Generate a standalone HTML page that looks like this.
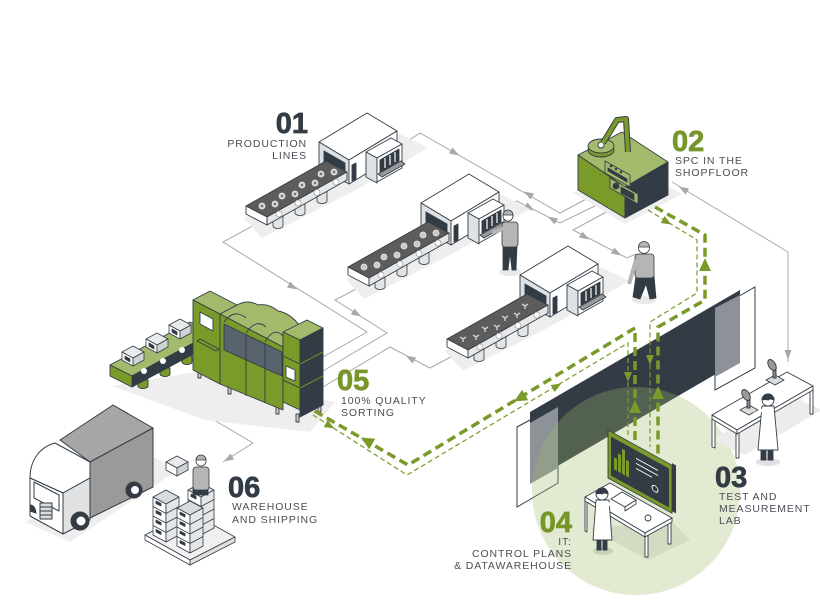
<!DOCTYPE html>
<html><head><meta charset="utf-8">
<style>
html,body{margin:0;padding:0;background:#fff;}
svg{display:block;}
text{font-family:"Liberation Sans",sans-serif;}
.num{font-weight:bold;font-size:29px;stroke-width:0.7px;}
.lbl{font-size:10.5px;letter-spacing:0.9px;fill:#4a4e54;}
</style></head><body>
<svg width="820" height="600" viewBox="0 0 820 600" xmlns="http://www.w3.org/2000/svg">
<rect width="820" height="600" fill="#fff"/>

<!-- gray flow lines -->
<g fill="none" stroke="#a8a8a8" stroke-width="1">
<polyline points="400,146 420,133 560,213 590,197"/>
<polyline points="503,208 517,201 560,223 603,202"/>
<polyline points="610,210 573,230 627,258 636,254"/>
<polyline points="260,222 223,242 367,332 323,357"/>
<polyline points="360,287 335,300 387,333 323,371"/>
<polyline points="460,352 430,368 390,347 323,387"/>
<polyline points="163,390 253,443 223,462"/>
<polyline points="672,182 788,252 788,362"/>
</g>
<g fill="#a8a8a8">
<polygon points="5,0 -5,-3.5 -5,3.5" transform="translate(455,153) rotate(30)"/>
<polygon points="5,0 -5,-3.5 -5,3.5" transform="translate(528,194) rotate(210)"/>
<polygon points="5,0 -5,-3.5 -5,3.5" transform="translate(530,208) rotate(30)"/>
<polygon points="5,0 -5,-3.5 -5,3.5" transform="translate(552,219) rotate(210)"/>
<polygon points="5,0 -5,-3.5 -5,3.5" transform="translate(585,237) rotate(30)"/>
<polygon points="5,0 -5,-3.5 -5,3.5" transform="translate(617,253) rotate(30)"/>
<polygon points="5,0 -5,-3.5 -5,3.5" transform="translate(293,287) rotate(30)"/>
<polygon points="5,0 -5,-3.5 -5,3.5" transform="translate(357,314) rotate(30)"/>
<polygon points="5,0 -5,-3.5 -5,3.5" transform="translate(410,358) rotate(210)"/>
<polygon points="5,0 -5,-3.5 -5,3.5" transform="translate(208,416) rotate(30)"/>
<polygon points="5,0 -5,-3.5 -5,3.5" transform="translate(228,459) rotate(150)"/>
<polygon points="5,0 -5,-3.5 -5,3.5" transform="translate(683,189) rotate(210)"/>
<polygon points="5,0 -5,-3.5 -5,3.5" transform="translate(788,355) rotate(90)"/>
</g>

<!-- production line template -->
<g id="pl">
<polygon fill="#eeeeee" points="244,218 330,170 400,134 428,148 352,192 262,238"/>
<g fill="#e2e4e6" stroke="#333c45" stroke-width="0.8">
<path d="M273,216 v10 a5,2.5 0 0 0 10,0 v-10 z"/>
<path d="M295,203 v10 a5,2.5 0 0 0 10,0 v-10 z"/>
<path d="M317,191 v10 a5,2.5 0 0 0 10,0 v-10 z"/>
</g>
<g stroke="#333c45" stroke-width="0.9" stroke-linejoin="round">
<polygon fill="#fff" points="319,142 367,113 397,131 349,160"/>
<polygon fill="#dfe2e5" points="319,142 349,160 349,184 319,166"/>
<polygon fill="#333c45" points="324,151 345,163 345,182 324,170"/>
<polygon fill="#fff" points="349,160 397,131 397,155 349,184"/>
<polygon fill="#333c45" points="352,165 356,163 356,179 352,181"/>
<polygon fill="#fff" points="366,152 391,138 402,144 377,158"/>
<polygon fill="#dfe2e5" points="366,152 377,158 377,183 366,177"/>
<polygon fill="#fff" points="377,158 402,144 402,168 377,182"/>
<polygon fill="#333c45" points="380,160 399,149 399,161 380,172"/>
<polygon fill="#9a9a9a" points="378,174 401,161 405,164 382,177"/>
</g>
<g stroke="#fff" stroke-width="1.2">
<line x1="385" y1="158" x2="385" y2="168"/><line x1="390" y1="155" x2="390" y2="165"/><line x1="395" y1="152" x2="395" y2="162"/>
</g>
<g stroke="#333c45" stroke-width="0.9" stroke-linejoin="round">
<polygon fill="#5c5c5c" points="246,206 267,217 347,172 326,161"/>
<polygon fill="#e6e7e8" points="267,217 347,172 347,180 267,225"/>
<polygon fill="#fff" points="246,206 267,217 267,225 246,214"/>
</g>
<g fill="#fff" stroke="#999" stroke-width="0.7">
<circle cx="279" cy="214" r="3"/><circle cx="298" cy="203" r="3"/><circle cx="317" cy="192.5" r="3"/><circle cx="336" cy="182" r="3"/>
</g>
</g>
<use href="#pl" transform="translate(102,61)"/>
<use href="#pl" transform="translate(201,133)"/>

<!-- nuts on lines 1,2 -->
<g id="nuts" fill="#c8c8c8" stroke="#eee" stroke-width="0.8">
<circle cx="262" cy="206" r="3"/><circle cx="275" cy="204" r="3"/><circle cx="282" cy="196" r="3"/><circle cx="295" cy="194" r="3"/>
<circle cx="302" cy="185" r="3"/><circle cx="315" cy="183" r="3"/><circle cx="321" cy="174" r="3"/><circle cx="334" cy="172" r="3"/>
</g>
<use href="#nuts" transform="translate(102,61)"/>
<g fill="#555">
<circle cx="262" cy="206" r="1"/><circle cx="275" cy="204" r="1"/><circle cx="282" cy="196" r="1"/><circle cx="295" cy="194" r="1"/>
<circle cx="302" cy="185" r="1"/><circle cx="315" cy="183" r="1"/><circle cx="321" cy="174" r="1"/><circle cx="334" cy="172" r="1"/>
</g>
<!-- Y items on line 3 -->
<g stroke="#d0d0d0" stroke-width="1.4" fill="none" transform="translate(201,133)">
<path d="M262,206 l-3,-2 M262,206 l3,-2 M262,206 v3"/><path d="M275,204 l-3,-2 M275,204 l3,-2 M275,204 v3"/>
<path d="M284,196 l-3,-2 M284,196 l3,-2 M284,196 v3"/><path d="M296,194 l-3,-2 M296,194 l3,-2 M296,194 v3"/>
<path d="M304,185 l-3,-2 M304,185 l3,-2 M304,185 v3"/><path d="M316,182 l-3,-2 M316,182 l3,-2 M316,182 v3"/>
<path d="M324,173 l-3,-2 M324,173 l3,-2 M324,173 v3"/>
</g>

<!-- worker 1 -->
<g stroke="#333c45" stroke-width="0.8">
<ellipse cx="510" cy="272" rx="11" ry="4" fill="#e8e8e8" stroke="none"/>
<polygon fill="#333c45" points="503,245 517,245 516,270 512,270 510,253 508,270 503,270"/>
<rect x="502" y="222" width="16" height="25" rx="3" fill="#b5b5b5"/>
<path d="M504,228 L492,233" stroke="#b5b5b5" stroke-width="4"/>
<circle cx="508" cy="216" r="5" fill="#fff"/>
<path d="M503,215 a5,5 0 0 1 10,0 z" fill="#b5b5b5"/>
</g>
<!-- worker 2 -->
<g stroke="#333c45" stroke-width="0.8">
<ellipse cx="644" cy="300" rx="12" ry="4" fill="#e8e8e8" stroke="none"/>
<polygon fill="#333c45" points="636,276 654,276 656,298 650,299 646,284 640,299 633,297"/>
<rect x="635" y="254" width="19" height="24" rx="3" fill="#b5b5b5"/>
<path d="M636,260 L629,284" stroke="#b5b5b5" stroke-width="4"/>
<circle cx="644" cy="248" r="5.5" fill="#fff"/>
<path d="M638.5,247 a5.5,5.5 0 0 1 11,0 z" fill="#b5b5b5"/>
</g>

<!-- SPC box -->
<polygon fill="#eeeeee" points="572,192 625,224 682,194 668,186"/>
<g stroke="#333c45" stroke-width="0.9" stroke-linejoin="round">
<polygon fill="#a3b96b" points="578,155 622,132 668,162 625,187"/>
<polygon fill="#7a9a2a" points="578,155 625,187 625,218 578,190"/>
<polygon fill="#333c45" points="625,187 668,162 668,195 625,218"/>
<ellipse cx="601" cy="150" rx="13" ry="7" fill="#7a9a2a"/>
<ellipse cx="601" cy="146" rx="13" ry="7" fill="#a3b96b"/>
<circle cx="601" cy="145" r="3" fill="#fff"/>
</g>
<path d="M603,143 L617,120 L626,119 L628,152" fill="none" stroke="#333c45" stroke-width="6" stroke-linejoin="round"/>
<path d="M603,143 L617,120 L626,119 L628,152" fill="none" stroke="#7a9a2a" stroke-width="4" stroke-linejoin="round"/>
<g stroke="#333c45" stroke-width="0.8">
<polygon fill="#a3b96b" points="605,161 630,175 630,187 605,173"/>
<polygon fill="#333c45" points="608,168 627,179 627,182 608,171"/>
<polygon fill="#a3b96b" points="610,178 638,194 638,204 610,188"/>
<circle cx="616" cy="186" r="3" fill="#333c45"/>
<polygon fill="#333c45" points="621,187 634,194 634,200 621,193"/>
</g>
<g fill="#333c45"><circle cx="611" cy="166" r="1.3"/><circle cx="616" cy="169" r="1.3"/><circle cx="621" cy="172" r="1.3"/></g>

<!-- green sorting machine -->
<polygon fill="#eeeeee" points="112,386 195,372 335,402 310,432 205,420"/>
<g stroke="#333c45" stroke-width="0.9" stroke-linejoin="round">
<path d="M138,380 v6 a5,2.5 0 0 0 10,0 v-6 z" fill="#7a9a2a"/>
<path d="M160,368 v6 a5,2.5 0 0 0 10,0 v-6 z" fill="#7a9a2a"/>
<path d="M182,356 v6 a5,2.5 0 0 0 10,0 v-6 z" fill="#7a9a2a"/>
<polygon fill="#a3b96b" points="110,365 190,322 212,333 132,376"/>
<polygon fill="#333c45" points="132,376 212,333 212,344 132,387"/>
<polygon fill="#7a9a2a" points="110,365 132,376 132,387 110,376"/>
</g>
<g fill="#fff"><circle cx="144" cy="371" r="3"/><circle cx="163" cy="361" r="3"/><circle cx="182" cy="350" r="3"/><circle cx="200" cy="340" r="3"/></g>
<g id="bx" stroke="#333c45" stroke-width="0.8" stroke-linejoin="round">
<polygon fill="#e8eaec" points="122,352 133,346 144,352 133,358"/>
<polygon fill="#fff" points="122,352 133,358 133,366 122,360"/>
<polygon fill="#d0d3d6" points="133,358 144,352 144,360 133,366"/>
<polygon fill="#333c45" points="125,356 130,359 130,362 125,359"/>
</g>
<use href="#bx" transform="translate(24,-13)"/>
<use href="#bx" transform="translate(47,-27)"/>
<g stroke="#333c45" stroke-width="0.9" stroke-linejoin="round">
<rect x="198" y="370" width="3" height="8" fill="#ccc"/><rect x="228" y="386" width="3" height="8" fill="#ccc"/>
<rect x="276" y="406" width="3" height="8" fill="#ccc"/><rect x="296" y="414" width="3" height="8" fill="#ccc"/><rect x="318" y="404" width="3" height="8" fill="#ccc"/>
<polygon fill="#a3b96b" points="193,300 210,291 237,305 220,314"/>
<polygon fill="#7a9a2a" points="193,300 220,314 220,384 193,370"/>
<polygon fill="#fff" points="200,312 213,319 213,331 200,324"/>
<polygon fill="#7a9a2a" points="197,341 216,351 219,349 200,339"/>
<path fill="#a3b96b" d="M220,314 L237,305 Q248,299 258,305 Q268,303 278,311 Q290,313 300,326 L283,335 L283,347 Z"/>
<polygon fill="#7a9a2a" points="220,314 283,347 283,410 220,384"/>
<polygon fill="#59636d" points="224,324 282,352 282,376 224,350"/>
<path d="M224,322 Q234,308 246,318 M246,333 Q256,318 266,327 M265,342 Q274,326 283,336" fill="none"/>
<line x1="246" y1="334" x2="246" y2="396"/><line x1="265" y1="343" x2="265" y2="403"/>
<polygon fill="#a3b96b" points="283,332 307,320 323,328 300,340"/>
<polygon fill="#7a9a2a" points="283,332 300,340 300,410 283,402"/>
<polygon fill="#333c45" points="300,340 323,328 323,405 300,417"/>
<line x1="283" y1="356" x2="300" y2="364"/><line x1="283" y1="380" x2="300" y2="388"/>
<line x1="300" y1="364" x2="323" y2="352" stroke="#7a9a2a"/><line x1="300" y1="388" x2="323" y2="376" stroke="#7a9a2a"/>
<polygon fill="#fff" points="286,366 295,370 295,381 286,377"/>
</g>

<!-- truck -->
<polygon fill="#eeeeee" points="25,522 150,455 178,470 70,542"/>
<g stroke="#333c45" stroke-width="1" stroke-linejoin="round">
<polygon fill="#a6a6a6" points="60,440 113,405 153,428 90,462"/>
<polygon fill="#9a9a9a" points="90,462 153,428 153,487 90,518"/>
<path fill="#fff" d="M30,478 C30,460 40,447 55,443 L90,462 L90,478 L63,493 Z"/>
<polygon fill="#dfe1e3" points="63,493 90,478 90,520 63,534"/>
<polygon fill="#fff" points="30,478 63,493 63,534 30,516"/>
<polygon fill="#fff" points="34,482 59,495 59,511 34,498"/>
<rect x="40" y="503" width="12" height="16" fill="#ddd"/>
<line x1="40" y1="507" x2="52" y2="507"/><line x1="40" y1="511" x2="52" y2="511"/><line x1="40" y1="515" x2="52" y2="515"/>
<path d="M30,505 q5,0 6,8 l-6,-2 z" fill="#333c45"/>
<circle cx="80" cy="521" r="9" fill="#333c45"/><circle cx="81" cy="521" r="5" fill="#fff"/>
<circle cx="134" cy="490" r="8" fill="#333c45"/><circle cx="135" cy="490" r="4.5" fill="#fff"/>
</g>

<!-- warehouse -->
<g stroke="#333c45" stroke-width="0.8" stroke-linejoin="round">
<polygon fill="#f0f0f0" points="145,535 190,512 235,537 190,560"/>
<polygon fill="#fff" points="145,535 190,560 190,565 145,540"/>
<polygon fill="#e0e0e0" points="190,560 235,537 235,542 190,565"/>
</g>
<g id="col" stroke="#333c45" stroke-width="0.8" stroke-linejoin="round">
<polygon fill="#d8dbde" points="188,490 201,483 214,490 201,497"/>
<polygon fill="#fff" points="188,490 201,497 201,535 188,528"/>
<polygon fill="#e4e6e8" points="201,497 214,490 214,528 201,535"/>
<path d="M188,499.5 l13,7 l13,-7 M188,509 l13,7 l13,-7 M188,518.5 l13,7 l13,-7" fill="none"/>
<g fill="#333c45"><polygon points="191,494 196,496.5 196,499 191,496.5"/><polygon points="191,503.5 196,506 196,508.5 191,506"/><polygon points="191,513 196,515.5 196,518 191,515.5"/><polygon points="191,522.5 196,525 196,527.5 191,525"/></g>
</g>
<use href="#col" transform="translate(-35,7)"/>
<use href="#col" transform="translate(-11,18)"/>
<g stroke="#333c45" stroke-width="0.8">
<polygon fill="#333c45" points="193,488 208,488 208,495 193,495"/>
<rect x="193" y="467" width="16" height="23" rx="3" fill="#b5b5b5"/>
<circle cx="201" cy="461" r="5" fill="#fff"/>
<path d="M196,460 a5,5 0 0 1 10,0 z" fill="#b5b5b5"/>
<polygon fill="#e8eaec" points="166,462 177,456 188,462 177,468"/>
<polygon fill="#fff" points="166,462 177,468 177,476 166,470"/>
<polygon fill="#d0d3d6" points="177,468 188,462 188,470 177,476"/>
</g>

<!-- dark panel -->
<g stroke="#333c45" stroke-width="1">
<polygon fill="#fff" points="517,427 558,405 558,483 517,507"/>
<polygon fill="#fff" points="715,310 755,287 755,368 715,390"/>
</g>
<polygon fill="#333c45" points="530,412 740,290 740,360 530,482"/>
<polygon fill="#8d9299" points="530,423 558,407 558,468 530,484"/>
<polygon fill="#8d9299" points="715,308 740,295 740,363 715,377"/>
<!-- green circle -->
<circle cx="636" cy="491" r="104" fill="#9fb86a" fill-opacity="0.3"/>

<!-- green dashed flows -->
<g fill="none" stroke="#7a9a2a">
<polyline stroke-width="3.5" stroke-dasharray="9 5" points="655,207 705,235 705,300 658,327 658,457"/>
<polyline stroke-width="3.5" stroke-dasharray="9 5" points="635,440 635,328 408,465 313,410"/>
<polyline stroke-width="1.2" stroke-dasharray="5 3" points="648,210 697,240 697,293 650,322 650,447"/>
<polyline stroke-width="1.2" stroke-dasharray="5 3" points="628,435 628,343 407,475 313,415"/>
</g>
<g fill="#7a9a2a">
<polygon points="7,0 -6,-6 -6,6" transform="translate(705,265) rotate(-90)"/>
<polygon points="7,0 -6,-6 -6,6" transform="translate(658,393) rotate(-90)"/>
<polygon points="7,0 -6,-6 -6,6" transform="translate(635,407) rotate(-90)"/>
<polygon points="7,0 -6,-6 -6,6" transform="translate(520,398) rotate(150)"/>
<polygon points="7,0 -6,-6 -6,6" transform="translate(367,441) rotate(210)"/>
<polygon points="5,0 -5,-4 -5,4" transform="translate(667,222) rotate(30)"/>
<polygon points="5,0 -5,-4 -5,4" transform="translate(650,360) rotate(90)"/>
<polygon points="5,0 -5,-4 -5,4" transform="translate(628,377) rotate(90)"/>
<polygon points="5,0 -5,-4 -5,4" transform="translate(557,386) rotate(-30)"/>
<polygon points="5,0 -5,-4 -5,4" transform="translate(330,426) rotate(30)"/>
</g>

<!-- IT desk -->
<polygon fill="#d3dbc3" points="590,528 648,560 690,540 672,522"/>
<g stroke="#333c45" stroke-width="0.9" stroke-linejoin="round">
<polygon fill="#fff" points="585,497 587,498 587,532 585,531"/>
<polygon fill="#fff" points="645,533 648,533 648,557 645,557"/>
<polygon fill="#fff" points="668,520 671,520 671,544 668,544"/>
<polygon fill="#fff" points="585,497 610,483 672,518 645,533"/>
<polygon fill="#fff" points="585,497 645,533 645,537 585,501"/>
<polygon fill="#fff" points="645,533 672,518 672,522 645,537"/>
<polygon fill="#fff" points="611,499 622,492 636,500 625,507"/>
<polygon fill="#fff" points="625,507 636,500 636,504 625,511"/>
<circle cx="648" cy="518" r="3" fill="#fff"/>
</g>
<g transform="translate(608,430) skewY(28.8)">
<rect x="64" y="-2" width="4" height="48" fill="#333c45"/>
<rect x="0" y="0" width="64" height="48" fill="#7a9a2a" stroke="#333c45" stroke-width="0.9"/>
<rect x="3" y="5" width="58" height="39" fill="#333c45"/>
<g fill="#7a9a2a"><rect x="6" y="24" width="3" height="12"/><rect x="10" y="18" width="3" height="18"/><rect x="14" y="11" width="3" height="25"/><rect x="18" y="20" width="3" height="16"/></g>
<g stroke="#fff" stroke-width="1"><line x1="28" y1="13" x2="50" y2="13"/><line x1="28" y1="18" x2="50" y2="18"/><line x1="28" y1="23" x2="44" y2="23"/></g>
<circle cx="47" cy="33" r="3" fill="none" stroke="#fff" stroke-width="0.9"/>
</g>
<!-- IT scientist -->
<g stroke="#333c45" stroke-width="0.9" stroke-linejoin="round">
<ellipse cx="603" cy="551" rx="10" ry="4" fill="#c9d2b7" stroke="none"/>
<rect x="597" y="538" width="4" height="12" fill="#333c45"/><rect x="603" y="538" width="4" height="12" fill="#333c45"/>
<polygon fill="#fff" points="596,500 609,500 612,540 593,540"/>
<path d="M607,503 L616,508" stroke="#fff" stroke-width="3"/>
<circle cx="602" cy="494" r="6" fill="#fff"/>
<path d="M596,494 a6,6 0 0 1 12,0 q-4,-2 -6,0 q-3,-1 -6,0 z" fill="#333c45"/>
</g>

<!-- test lab -->
<polygon fill="#ececec" points="712,440 790,395 822,410 745,455"/>
<g stroke="#333c45" stroke-width="0.9" stroke-linejoin="round">
<polygon fill="#fff" points="712,417 715,418 715,448 712,447"/>
<polygon fill="#fff" points="736,432 739,432 739,458 736,458"/>
<polygon fill="#fff" points="810,389 813,389 813,414 810,414"/>
<polygon fill="#fff" points="712,415 787,372 813,386 737,430"/>
<polygon fill="#fff" points="712,415 737,430 737,434 712,419"/>
<polygon fill="#fff" points="737,430 813,386 813,390 737,434"/>
<polygon fill="#ddd" points="740,410 749,405 758,410 749,415"/>
<rect x="747" y="396" width="3" height="12" fill="#888"/>
<ellipse cx="746" cy="395" rx="3.5" ry="6" fill="#999" transform="rotate(-30 746 395)"/>
<polygon fill="#ddd" points="766,380 775,375 784,380 775,385"/>
<rect x="773" y="366" width="3" height="12" fill="#888"/>
<ellipse cx="772" cy="365" rx="3.5" ry="6" fill="#999" transform="rotate(-30 772 365)"/>
<ellipse cx="768" cy="462" rx="12" ry="4" fill="#e0e0e0" stroke="none"/>
<rect x="761" y="448" width="5" height="12" fill="#333c45"/><rect x="768" y="448" width="5" height="12" fill="#333c45"/>
<polygon fill="#fff" points="762,406 774,406 778,450 758,450"/>
<path d="M763,410 L754,414" stroke="#fff" stroke-width="3"/>
<circle cx="768" cy="400" r="6" fill="#fff"/>
<path d="M762,400 a6,6 0 0 1 12,0 q-4,-2 -6,0 q-3,-1 -6,0 z" fill="#333c45"/>
</g>

<!-- labels -->
<text class="num" x="308" y="133" text-anchor="end" fill="#333c45" stroke="#333c45">01</text>
<text class="lbl" x="307" y="147" text-anchor="end">PRODUCTION</text>
<text class="lbl" x="307" y="159" text-anchor="end">LINES</text>

<text class="num" x="672" y="151" fill="#76962a" stroke="#76962a">02</text>
<text class="lbl" x="675" y="164">SPC IN THE</text>
<text class="lbl" x="675" y="176">SHOPFLOOR</text>

<text class="num" x="715" y="487" fill="#333c45" stroke="#333c45">03</text>
<text class="lbl" x="719" y="500">TEST AND</text>
<text class="lbl" x="719" y="512">MEASUREMENT</text>
<text class="lbl" x="719" y="524">LAB</text>

<text class="num" x="572" y="532" text-anchor="end" fill="#76962a" stroke="#76962a">04</text>
<text class="lbl" x="572" y="545" text-anchor="end">IT:</text>
<text class="lbl" x="572" y="557" text-anchor="end">CONTROL PLANS</text>
<text class="lbl" x="572" y="569" text-anchor="end">&amp; DATAWAREHOUSE</text>

<text class="num" x="337" y="390" fill="#76962a" stroke="#76962a">05</text>
<text class="lbl" x="341" y="404">100% QUALITY</text>
<text class="lbl" x="341" y="416">SORTING</text>

<text class="num" x="228" y="497" fill="#333c45" stroke="#333c45">06</text>
<text class="lbl" x="232" y="510">WAREHOUSE</text>
<text class="lbl" x="232" y="523">AND SHIPPING</text>
</svg>
</body></html>
